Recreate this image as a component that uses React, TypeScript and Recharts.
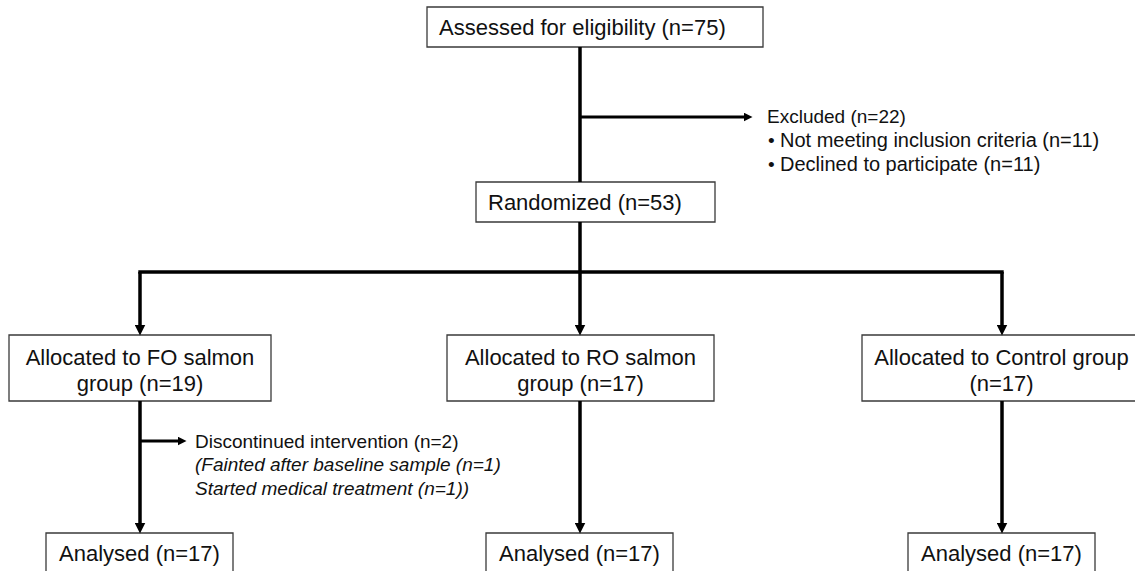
import React from 'react';
import { ComposedChart, XAxis, YAxis, Scatter, ReferenceArea, ReferenceLine } from 'recharts';

// flow counts
const assessedN = 75;
const excludedN = 22;
const exclusionReasons = ['Not meeting inclusion criteria', 'Declined to participate'];
const exclusionCounts = [11, 11];
const randomizedN = 53;
const groups = ['FO salmon', 'RO salmon', 'Control'];
const allocatedN = [19, 17, 17];
const discontinuedN = [2, 0, 0];
const discontinuedReasons = ['Fainted after baseline sample', 'Started medical treatment'];
const discontinuedCounts = [1, 1];
const analysedN = [17, 17, 17];

const W = 1135;
const H = 571;
const FONT = '"Liberation Sans", Arial, Helvetica, sans-serif';
const BOX_FONT = 22;
const SIDE_FONT = 19;

// layout (diagram units, y grows downward)
const colX = [140, 580, 1002];
const allocSpan = [[9, 271], [447, 714], [862, 1141]];
const allocY = [335, 401];
const analysedY = [533, 592];
const branchY = 272;

const wrap = (s: string, max: number) => {
  const out: string[] = [];
  let cur = '';
  s.split(' ').forEach((w) => {
    const next = cur ? cur + ' ' + w : w;
    if (next.length > max && cur) {
      out.push(cur);
      cur = w;
    } else cur = next;
  });
  if (cur) out.push(cur);
  return out;
};

type Box = { x1: number; x2: number; y1: number; y2: number; lines: string[]; align: 'start' | 'middle' };

const boxes: Box[] = [
  { x1: 427, x2: 763, y1: 7, y2: 47, lines: [`Assessed for eligibility (n=${assessedN})`], align: 'start' },
  { x1: 476, x2: 715, y1: 182, y2: 222, lines: [`Randomized (n=${randomizedN})`], align: 'start' },
  ...groups.map((g, i) => ({
    x1: allocSpan[i][0], x2: allocSpan[i][1], y1: allocY[0], y2: allocY[1],
    lines: wrap(`Allocated to ${g} group (n=${allocatedN[i]})`, 26), align: 'middle' as const,
  })),
  ...groups.map((g, i) => ({
    x1: colX[i] - 94, x2: colX[i] + 93, y1: analysedY[0], y2: analysedY[1],
    lines: [`Analysed (n=${analysedN[i]})`], align: 'middle' as const,
  })),
];

type Line = { text: string; italic?: boolean; dx?: number; size?: number; bullet?: boolean };
type TextItem = {
  x: number; y: number; anchor: 'start' | 'middle'; size: number; step: number;
  lines: Line[];
};

const textItems: TextItem[] = [
  ...boxes.map((b) => ({
    x: b.align === 'start' ? b.x1 + 12 : (b.x1 + b.x2) / 2,
    y: b.y1 + (b.lines.length > 1 ? 22 : 20),
    anchor: b.align, size: BOX_FONT, step: 26,
    lines: b.lines.map((t) => ({ text: t })),
  })),
  {
    x: 767, y: 116, anchor: 'start', size: SIDE_FONT, step: 24,
    lines: [
      { text: `Excluded (n=${excludedN})` },
      ...exclusionReasons.map((r, i) => ({
        text: `${r} (n=${exclusionCounts[i]})`, dx: 13, size: 20, bullet: true,
      })),
    ],
  },
  {
    x: 195, y: 441, anchor: 'start', size: SIDE_FONT, step: 23.5,
    lines: [
      { text: `Discontinued intervention (n=${discontinuedN[0]})` },
      { text: `(${discontinuedReasons[0]} (n=${discontinuedCounts[0]})`, italic: true },
      { text: `${discontinuedReasons[1]} (n=${discontinuedCounts[1]}))`, italic: true },
    ],
  },
];

type Seg = { a: [number, number]; b: [number, number]; arrow?: 'big' | 'small'; w: number };

// pull the line end back so the arrow head tip lands on the target
const arrow = (a: [number, number], b: [number, number], kind: 'big' | 'small', w = 3.5): Seg => {
  const dx = b[0] - a[0];
  const dy = b[1] - a[1];
  const len = Math.hypot(dx, dy);
  const k = kind === 'big' ? 5 : 4;
  return { a, b: [b[0] - (dx / len) * k, b[1] - (dy / len) * k], arrow: kind, w };
};

const segments: Seg[] = [
  { a: [580, 47], b: [580, 182], w: 3.5 },
  arrow([580, 117], [752, 117], 'small', 3),
  { a: [580, 222], b: [580, branchY], w: 3.5 },
  { a: [colX[0] - 1.7, branchY], b: [colX[2] + 1.7, branchY], w: 3.5 },
  ...colX.map((x) => arrow([x, branchY], [x, allocY[0]], 'big')),
  ...colX.map((x) => arrow([x, allocY[1]], [x, analysedY[0]], 'big')),
  arrow([colX[0], 441], [186, 441], 'small', 3),
];

const TextShape = (props: any) => {
  const { cx, cy, payload } = props;
  const item = payload as TextItem;
  return (
    <g>
      {item.lines.map((l, i) => (
        <g key={i}>
          {l.bullet && (
            <text x={cx + 1} y={cy + i * item.step} dy="0.35em" fontFamily={FONT} fontSize={item.size} fill="#111">
              {'\u2022'}
            </text>
          )}
          <text
            x={cx + (l.dx || 0)}
            y={cy + i * item.step}
            dy="0.35em"
            textAnchor={item.anchor}
            fontFamily={FONT}
            fontSize={l.size || item.size}
            fontStyle={l.italic ? 'italic' : 'normal'}
            fill="#111"
          >
            {l.text}
          </text>
        </g>
      ))}
    </g>
  );
};

export default function App() {
  return (
    <div style={{ width: W, height: H, background: '#fff' }}>
      <style>{'body{margin:0}'}</style>
      <svg width={0} height={0} style={{ position: 'absolute' }}>
        <defs>
          <marker id="head-big" viewBox="0 0 10 10" refX={5} refY={5} markerWidth={11} markerHeight={11}
            markerUnits="userSpaceOnUse" orient="auto">
            <path d="M0,0 L10,5 L0,10 z" fill="#000" />
          </marker>
          <marker id="head-small" viewBox="0 0 10 10" refX={5} refY={5} markerWidth={9} markerHeight={9}
            markerUnits="userSpaceOnUse" orient="auto">
            <path d="M0,0 L10,5 L0,10 z" fill="#000" />
          </marker>
        </defs>
      </svg>
      <ComposedChart width={W} height={H} margin={{ top: 0, right: 0, bottom: 0, left: 0 }} data={textItems}>
        <XAxis type="number" dataKey="x" domain={[0, W]} hide allowDataOverflow />
        <YAxis type="number" dataKey="y" domain={[0, H]} reversed hide allowDataOverflow />
        {boxes.map((b, i) => (
          <ReferenceArea
            key={'box' + i}
            x1={b.x1}
            x2={b.x2}
            y1={b.y1}
            y2={b.y2}
            fill="#fff"
            fillOpacity={1}
            stroke="#3a3a3a"
            strokeWidth={1.3}
            ifOverflow="visible"
          />
        ))}
        {segments.map((s, i) => (
          <ReferenceLine
            key={'seg' + i}
            segment={[{ x: s.a[0], y: s.a[1] }, { x: s.b[0], y: s.b[1] }]}
            stroke="#000"
            strokeWidth={s.w}
            ifOverflow="visible"
            markerEnd={s.arrow ? `url(#head-${s.arrow})` : undefined}
          />
        ))}
        <Scatter data={textItems} shape={<TextShape />} isAnimationActive={false} />
      </ComposedChart>
    </div>
  );
}
